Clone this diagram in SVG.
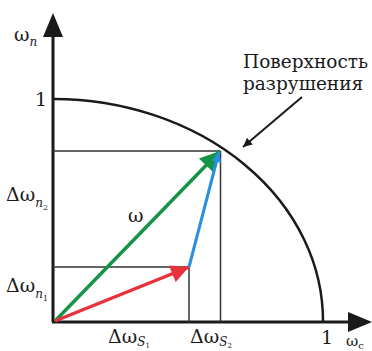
<svg xmlns="http://www.w3.org/2000/svg" width="372" height="351" viewBox="0 0 372 351">
<defs>
<style>
text{fill:#1a1a1a}
.lab{font-size:19px}
.sub{font-size:12px;font-style:italic}
.grid{stroke:#333;stroke-width:1.5;fill:none}
.axis{stroke:#1a1a1a;stroke-width:3;fill:none}
</style>
<marker id="mg" viewBox="0 0 10 10" refX="10" refY="5" markerWidth="26" markerHeight="20" markerUnits="userSpaceOnUse" orient="auto"><path d="M0,0 L10,5 L0,10 Z" fill="#159447"/></marker>
<marker id="mr" viewBox="0 0 10 10" refX="10" refY="5" markerWidth="22" markerHeight="18" markerUnits="userSpaceOnUse" orient="auto"><path d="M0,0 L10,5 L0,10 Z" fill="#e8313a"/></marker>
<marker id="mb" viewBox="0 0 10 10" refX="10" refY="5" markerWidth="16" markerHeight="10" markerUnits="userSpaceOnUse" orient="auto"><path d="M0,0 L10,5 L0,10 Z" fill="#2a8fe0"/></marker>
<marker id="mk" viewBox="0 0 10 10" refX="10" refY="5" markerWidth="14" markerHeight="9" markerUnits="userSpaceOnUse" orient="auto"><path d="M0,0 L10,5 L0,10 Z" fill="#1a1a1a"/></marker>
</defs>
<rect width="372" height="351" fill="#fff"/>
<g id="axes">
<line class="axis" x1="53" y1="322" x2="53" y2="34"/>
<polygon points="53,13 43,37 63,37" fill="#1a1a1a"/>
<line class="axis" x1="52" y1="322" x2="350" y2="322"/>
<polygon points="372,322 348,312 348,332" fill="#1a1a1a"/>
</g>
<g id="surface">
<path d="M54,99 A270,222 0 0 1 323,322" fill="none" stroke="#1a1a1a" stroke-width="2.5"/>
</g>
<g id="grid">
<line class="grid" x1="53" y1="151" x2="220.5" y2="151"/>
<line class="grid" x1="220.5" y1="151" x2="220.5" y2="322"/>
<line class="grid" x1="53" y1="267" x2="189" y2="267"/>
<line class="grid" x1="189" y1="267" x2="189" y2="322"/>
</g>
<g id="connectors">
<line x1="55" y1="321" x2="220" y2="151" stroke="#159447" stroke-width="3.5" marker-end="url(#mg)"/>
<line x1="55" y1="321" x2="189" y2="267" stroke="#e8313a" stroke-width="3.5" marker-end="url(#mr)"/>
<line x1="189" y1="267" x2="219" y2="152" stroke="#2a8fe0" stroke-width="3" marker-end="url(#mb)"/>
<line x1="302" y1="97" x2="243" y2="147" stroke="#1a1a1a" stroke-width="2" marker-end="url(#mk)"/>
</g>
<g id="labels" font-family="DejaVu Serif, serif">
<text class="lab" x="14" y="41">ω<tspan class="sub" dy="5">n</tspan></text>
<text class="lab" x="35" y="106">1</text>
<text class="lab" x="6" y="201">Δω<tspan class="sub" dy="6">n</tspan><tspan font-size="8" dy="3">2</tspan></text>
<text class="lab" x="6" y="292">Δω<tspan class="sub" dy="6">n</tspan><tspan font-size="8" dy="3">1</tspan></text>
<text class="lab" x="128" y="222">ω</text>
<text class="lab" x="108" y="343">Δω<tspan class="sub" dy="3">S</tspan><tspan font-size="7" dy="2">1</tspan></text>
<text class="lab" x="190" y="343">Δω<tspan class="sub" dy="3">S</tspan><tspan font-size="7" dy="2">2</tspan></text>
<text class="lab" x="321" y="344">1</text>
<text x="346" y="346" font-size="15">ω<tspan font-size="10" dy="3">c</tspan></text>
<text x="243" y="68" font-size="18.5">Поверхность</text>
<text x="243" y="90" font-size="18.5">разрушения</text>
</g>
</svg>
